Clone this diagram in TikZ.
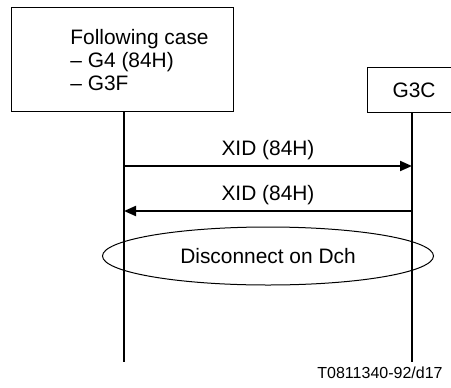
\documentclass[tikz,border=0pt]{standalone}
\usepackage{fontspec}
\setmainfont{Liberation Sans}
\usetikzlibrary{arrows.meta,shapes.geometric}

\tikzset{
  box/.style={draw,line width=0.5pt,inner sep=0pt},
  life/.style={line width=1pt},
  msg/.style={line width=1pt,-{Triangle[length=6pt,width=5pt]}},
  lbl/.style={inner sep=0pt,font=\fontsize{10.45}{11.5}\selectfont}
}

\begin{document}
\begin{tikzpicture}[x=0.5pt,y=-0.5pt]
\useasboundingbox (0,0) rectangle (451,387);

\node[box,minimum width=111pt,minimum height=52pt] (caller) at (122.5,59) {};
\node[lbl,anchor=west,align=left] (callertxt) at (70,60)
  {Following case\\ -- G4 (84H)\\ -- G3F};
\node[box,minimum width=45pt,minimum height=22.5pt] (called) at (412,89.5) {};
\node[lbl] (calledtxt) at (414,90) {G3C};

\coordinate (aend) at (124,362);
\coordinate (bend) at (412,362);
\draw[life] (caller.south -| aend) -- (aend);
\draw[life] (called.south) -- (bend);

\coordinate (a1) at (124,166);
\coordinate (b1) at (412,166);
\coordinate (a2) at (124,211);
\coordinate (b2) at (412,211);
\draw[msg] (a1) -- node[lbl,above=2.5pt] (xid1) {XID (84H)} (b1);
\draw[msg] (b2) -- node[lbl,above=2.5pt] (xid2) {XID (84H)} (a2);

\node[ellipse,draw,line width=0.5pt,minimum width=165.5pt,minimum height=29pt,
  inner sep=0pt,lbl] (disc) at (268,256) {Disconnect on Dch};

\node[inner sep=0pt,font=\fontsize{8}{9.6}\selectfont] (fig) at (380,373) {T0811340-92/d17};
\end{tikzpicture}
\end{document}
